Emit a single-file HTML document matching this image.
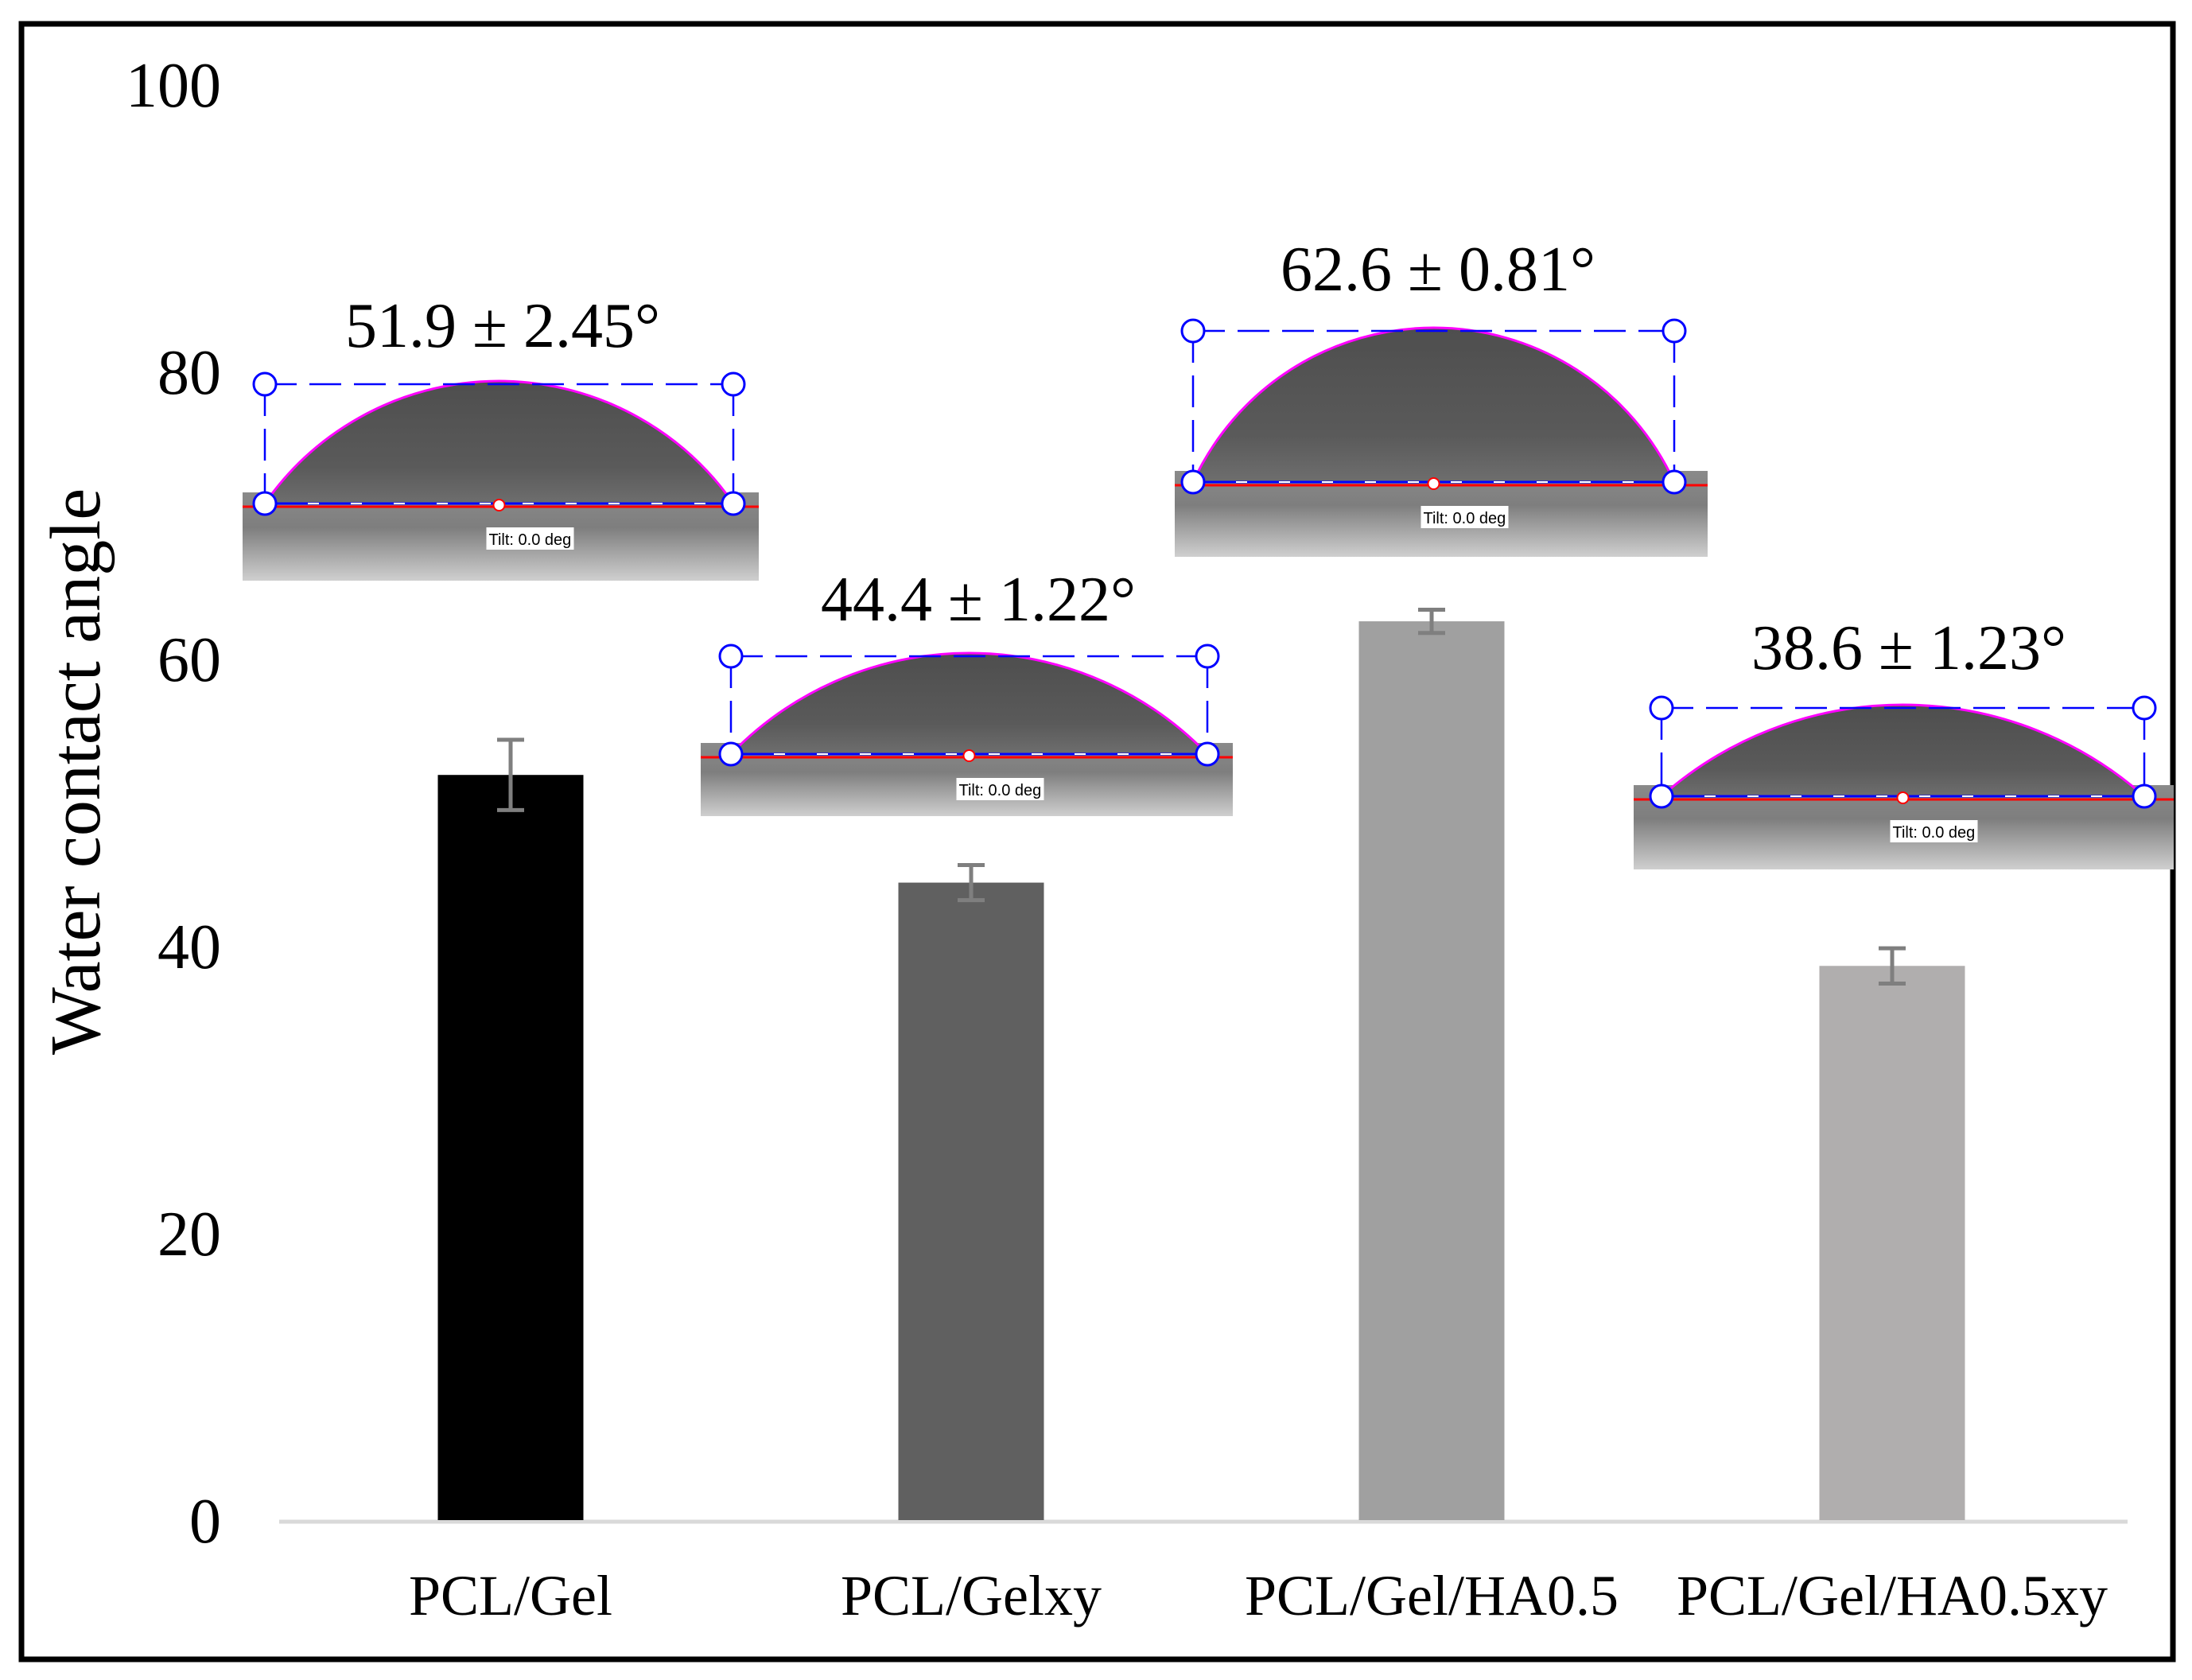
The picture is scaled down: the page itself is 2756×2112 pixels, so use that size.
<!DOCTYPE html>
<html><head><meta charset="utf-8"><style>
html,body{margin:0;padding:0;background:#fff;}
svg{display:block;font-family:"Liberation Serif",serif;}
</style></head><body>
<svg id="chart" width="2756" height="2112" viewBox="0 0 2756 2112" xmlns="http://www.w3.org/2000/svg">
<defs>
<linearGradient id="sub" x1="0" y1="0" x2="0" y2="1">
<stop offset="0" stop-color="#8a8a8a"/><stop offset="0.4" stop-color="#7e7e7e"/><stop offset="1" stop-color="#cfcfcf"/>
</linearGradient>
<linearGradient id="drop" x1="0" y1="0" x2="0" y2="1">
<stop offset="0" stop-color="#4e4e4e"/><stop offset="0.7" stop-color="#5a5a5a"/><stop offset="1" stop-color="#6e6e6e"/>
</linearGradient>
</defs>
<rect x="27" y="30" width="2705" height="2056" fill="#fff" stroke="#000" stroke-width="7"/>
<g id="ticks"></g>
<line x1="351" y1="1913" x2="2675" y2="1913" stroke="#d9d9d9" stroke-width="5"/>
<g id="bars"></g>
<g id="drops"></g>
<text transform="translate(125,970) rotate(-90)" text-anchor="middle" font-size="90">Water contact angle</text>
</svg>
<script>
const categories = ["PCL/Gel","PCL/Gelxy","PCL/Gel/HA0.5","PCL/Gel/HA0.5xy"];
const values = [51.9, 44.4, 62.6, 38.6];
const errors = [2.45, 1.22, 0.81, 1.23];
const yTicks = [0, 20, 40, 60, 80, 100];
const annotations = ["51.9 ± 2.45°","44.4 ± 1.22°","62.6 ± 0.81°","38.6 ± 1.23°"];
const colors = ["#000000","#606060","#a0a0a0","#b0aeae"];

const NS = "http://www.w3.org/2000/svg";
const y0 = 1911, pxPer = 18.05;
function yScale(v){ return y0 - v*pxPer; }
function xCenter(i){ return 642 + i*579; }
const barW = 183;
function mk(tag, attrs, parent){ const e=document.createElementNS(NS,tag); for(const k in attrs) e.setAttribute(k,attrs[k]); parent.appendChild(e); return e; }

const tg = document.getElementById('ticks');
yTicks.forEach(t=>{
  const e = mk('text',{x:278,y:yScale(t)+28,'text-anchor':'end','font-size':80},tg);
  
  
  e.textContent = t;
});

const bg = document.getElementById('bars');
categories.forEach((c,i)=>{
  const cx = xCenter(i), top = yScale(values[i]);
  const r = mk('rect',{x:cx-barW/2,y:top,width:barW,height:y0-top,fill:colors[i]},bg);
  
  
  const g = mk('g',{stroke:'#7f7f7f','stroke-width':5,fill:'none'},bg);
  
  
  const yh = yScale(values[i]+errors[i]), yl = yScale(values[i]-errors[i]);
  mk('line',{x1:cx,y1:yh,x2:cx,y2:yl},g);
  mk('line',{x1:cx-17,y1:yh,x2:cx+17,y2:yh},g);
  mk('line',{x1:cx-17,y1:yl,x2:cx+17,y2:yl},g);
  const l = mk('text',{x:cx,y:2030,'text-anchor':'middle','font-size':72},bg);
  
  
  l.textContent = c;
});

const insets = [
  {x:305,y:467,w:649,h:263,base:633,top:483,L:333,R:922,tx:632,ty:436},
  {x:881,y:811,w:669,h:215,base:948,top:825,L:919,R:1518,tx:1230,ty:780},
  {x:1477,y:402,w:670,h:298,base:606,top:416,L:1500,R:2105,tx:1808,ty:365},
  {x:2054,y:881,w:679,h:212,base:1001,top:890,L:2089,R:2696,tx:2400,ty:841}
];
const dg = document.getElementById('drops');
insets.forEach((p,i)=>{
  const g = mk('g',{},dg);
  
  
  mk('rect',{x:p.x,y:p.base-14,width:p.w,height:p.y+p.h-(p.base-14),fill:'url(#sub)'},g);
  const h = p.base-p.top+4, half=(p.R-p.L)/2;
  const rad = (half*half + h*h)/(2*h);
  mk('path',{d:`M${p.L},${p.base} A${rad},${rad} 0 0 1 ${p.R},${p.base} Z`,fill:'url(#drop)',stroke:'#ff00ff','stroke-width':3},g);
  mk('line',{x1:p.x,y1:p.base+4,x2:p.x+p.w,y2:p.base+4,stroke:'#ff0000','stroke-width':3},g);
  mk('line',{x1:p.L,y1:p.base,x2:p.R,y2:p.base,stroke:'#0000ff','stroke-width':3},g);
  mk('line',{x1:p.L,y1:p.base,x2:p.R,y2:p.base,stroke:'#fff','stroke-width':2,'stroke-dasharray':'14 40'},g);
  mk('path',{d:`M${p.L},${p.top} H${p.R} M${p.L},${p.top} V${p.base} M${p.R},${p.top} V${p.base}`,stroke:'#0000ff','stroke-width':2.5,fill:'none','stroke-dasharray':'40 16'},g);
  [[p.L,p.top],[p.R,p.top],[p.L,p.base],[p.R,p.base]].forEach(([cx,cy])=>mk('circle',{cx:cx,cy:cy,r:14,fill:'#fff',stroke:'#0000ff','stroke-width':3},g));
  mk('circle',{cx:(p.L+p.R)/2,cy:p.base+2,r:7,fill:'#fff',stroke:'#ff0000','stroke-width':2},g);
  const lx=(p.L+p.R)/2-16;
  mk('rect',{x:lx,y:p.base+30,width:110,height:28,fill:'#fff'},g);
  const tt = mk('text',{x:lx+3,y:p.base+52,'font-size':20,'font-family':'Liberation Sans, sans-serif'},g);
  
  
  tt.textContent='Tilt: 0.0 deg';
  const a = mk('text',{x:p.tx,y:p.ty,'text-anchor':'middle','font-size':80},dg);
  
  
  a.textContent = annotations[i];
});
</script>
</body></html>
